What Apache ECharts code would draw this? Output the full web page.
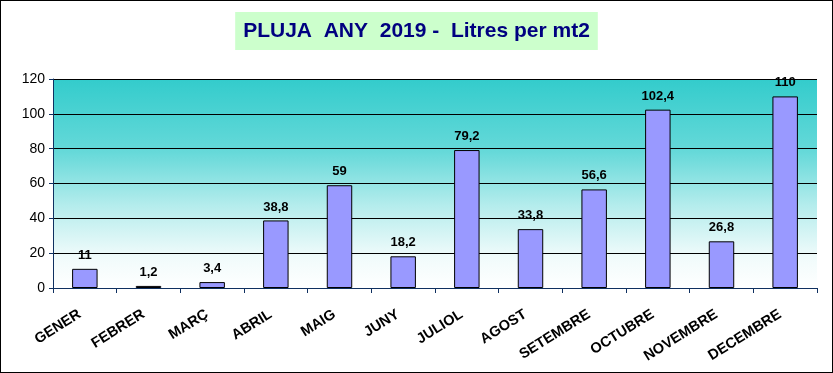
<!DOCTYPE html>
<html><head><meta charset="utf-8">
<script src="https://cdn.jsdelivr.net/npm/echarts@6/dist/echarts.min.js"></script>
<style>html,body{margin:0;padding:0;background:#fff}#c{width:833px;height:373px;box-sizing:border-box;border:1px solid #000}</style>
</head><body><div id="c"></div>
<script>
const categories = ['GENER','FEBRER','MARÇ','ABRIL','MAIG','JUNY','JULIOL','AGOST','SETEMBRE','OCTUBRE','NOVEMBRE','DECEMBRE'];
const rainfall = [11, 1.2, 3.4, 38.8, 59, 18.2, 79.2, 33.8, 56.6, 102.4, 26.8, 110];
const titleText = 'PLUJA  ANY  2019 -  Litres per mt2';

const chart = echarts.init(document.getElementById('c'));
chart.setOption({
  animation: false,
  title: {
    text: titleText, left: 'center', top: 11,
    backgroundColor: '#CCFFCC', padding: [9, 8, 8, 8],
    textStyle: {fontFamily: 'Arial, Liberation Sans', fontWeight: 'bold', fontSize: 21, color: '#000080'}
  },
  grid: {
    left: 52, right: 15, top: 78, bottom: 84, show: true, borderWidth: 0,
    backgroundColor: new echarts.graphic.LinearGradient(0, 0, 0, 1, [
      {offset: 0, color: '#33CCCC'},
      {offset: 0.35, color: '#66D9D9'},
      {offset: 0.6, color: '#B3ECEC'},
      {offset: 0.85, color: '#F0FBFB'},
      {offset: 1, color: '#FFFFFF'}
    ])
  },
  xAxis: {
    type: 'category', data: categories,
    axisLine: {lineStyle: {color: '#0F3060', width: 1}},
    axisTick: {show: true, length: 5, lineStyle: {color: '#0F3060'}},
    axisLabel: {rotate: 32, fontFamily: 'Arial, Liberation Sans', fontWeight: 'bold', fontSize: 14.5, color: '#000', margin: 22, padding: [0, 6, 0, 0]}
  },
  yAxis: {
    type: 'value', min: 0, max: 120, interval: 20,
    axisLine: {show: true, lineStyle: {color: '#0F3060'}},
    axisTick: {show: true, length: 4, lineStyle: {color: '#0F3060'}},
    axisLabel: {fontFamily: 'Arial, Liberation Sans', fontSize: 14, color: '#000', margin: 8},
    splitLine: {lineStyle: {color: '#000', width: 1}}
  },
  series: [{
    type: 'bar', data: rainfall, barWidth: '40%',
    itemStyle: {color: '#9999FF', borderColor: '#000', borderWidth: 1},
    label: {show: true, position: 'top', distance: 7, fontFamily: 'Arial, Liberation Sans', fontWeight: 'bold', fontSize: 13, color: '#000',
      formatter: p => String(p.value).replace('.', ',')}
  }]
});
</script></body></html>
